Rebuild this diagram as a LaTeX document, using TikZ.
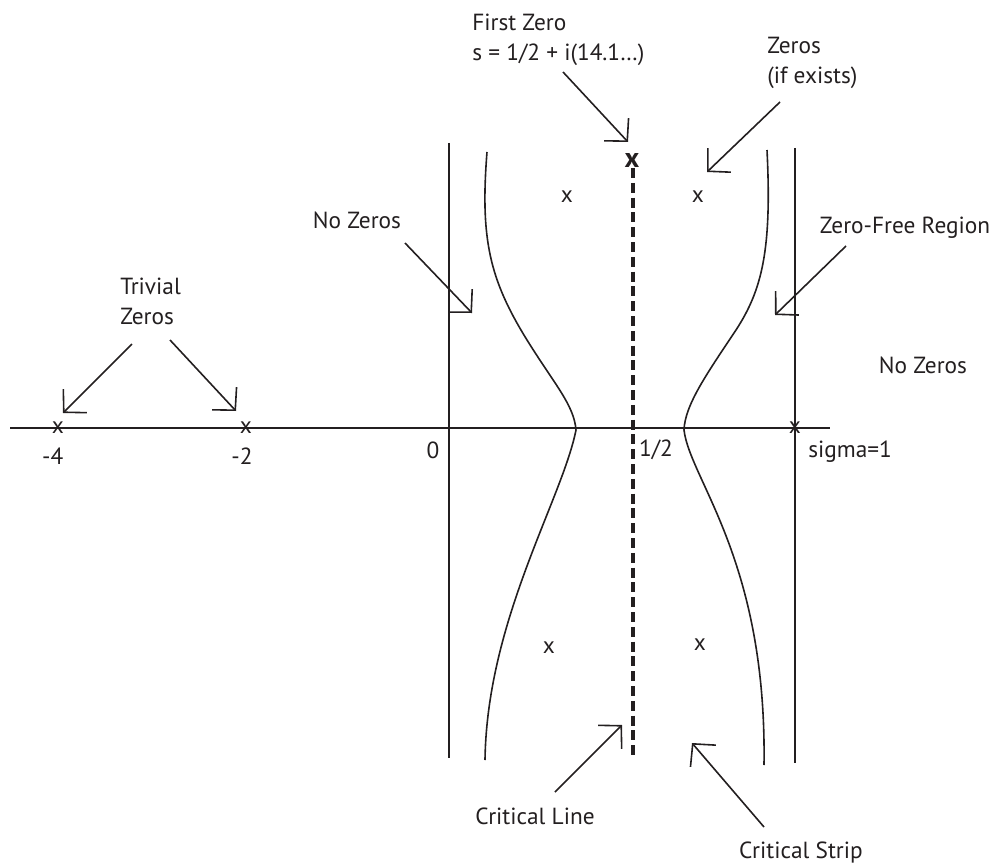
\documentclass[tikz,border=0pt]{standalone}
\usepackage{fontspec}
\setmainfont{PT Sans}
\usetikzlibrary{arrows.meta, positioning}
\definecolor{ink}{RGB}{35,31,32}

\begin{document}
\begin{tikzpicture}[x=0.75pt, y=-0.75pt, color=ink,
    txt/.style={inner sep=0pt, font=\fontsize{17.5}{22.5}\selectfont},
    zero/.style={inner sep=0pt, font=\fontsize{17.5}{22.5}\selectfont},
    firstzero/.style={inner sep=0pt, font=\fontsize{21}{21}\selectfont\bfseries},
    axisline/.style={line width=1.5pt},
    curve/.style={line width=1.2pt},
    critline/.style={line width=2.3pt, dash pattern=on 7.5pt off 3.6pt},
    arr/.style={line width=1.2pt, -{Straight Barb[length=12pt, width=25pt]}}]
  \useasboundingbox (0,0) rectangle (997,867);

  \coordinate (west) at (10,428);
  \coordinate (east) at (830,428);
  \coordinate (s0top) at (449,143);
  \coordinate (s0bot) at (449,758);
  \coordinate (s1top) at (795,148);
  \coordinate (s1bot) at (795,763);
  \coordinate (crittop) at (633,168);
  \coordinate (critbot) at (633,757);

  \draw[axisline] (west) -- (east);
  \draw[axisline] (s0top) -- (s0bot);
  \draw[axisline] (s1top) -- (s1bot);
  \draw[critline] (crittop) -- (critbot);

  \draw[curve] (487,152) .. controls (480,240) and (490,280) .. (527,340)
    .. controls (555,385) and (574,405) .. (576,430)
    .. controls (562,500) and (487,620) .. (485,760);
  \draw[curve] (767,150) .. controls (772,250) and (762,290) .. (736,330)
    .. controls (706,375) and (685,405) .. (684,430)
    .. controls (690,480) and (767,560) .. (764,765);

  \node[zero] (m4) at (58,428) {x};
  \node[zero] (m2) at (246,428) {x};
  \node[zero] (m1) at (795,428) {x};
  \node[zero] (zul) at (567,197) {x};
  \node[zero] (zur) at (698,197) {x};
  \node[zero] (zll) at (549,648) {x};
  \node[zero] (zlr) at (700,645) {x};
  \node[firstzero] (z1) at (632,160) {x};

  \node[txt, below=10pt of m4, xshift=-4pt] (lm4) {-4};
  \node[txt, below=10pt of m2, xshift=-3pt] (lm2) {-2};
  \node[txt] (l0) at (433,450) {0};
  \node[txt] (lhalf) at (656,450) {1/2};
  \node[txt, anchor=west] (lsig) at (808,452) {sigma=1};

  \node[txt, align=left, anchor=north west] (trivial) at (120,278) {Trivial\\Zeros};
  \node[txt, align=left, anchor=north west] (first) at (472,14) {First Zero\\s = 1/2 + i(14.1…)};
  \node[txt, align=left, anchor=north west] (ifex) at (767,37) {Zeros\\(if exists)};
  \node[txt] (nzleft) at (357,220) {No Zeros};
  \node[txt] (zfree) at (905,228) {Zero-Free Region};
  \node[txt] (nzright) at (923,365) {No Zeros};
  \node[txt] (cline) at (535,816) {Critical Line};
  \node[txt] (cstrip) at (801,853) {Critical Strip};

  \coordinate (a1) at (563,72);   \coordinate (b1) at (628,142);
  \coordinate (a2) at (780,102);  \coordinate (b2) at (707,172);
  \coordinate (a3) at (132,344);  \coordinate (b3) at (63,413);
  \coordinate (a4) at (170,340);  \coordinate (b4) at (236,411);
  \coordinate (a5) at (405,243);  \coordinate (b5) at (472,313);
  \coordinate (a6) at (846,246);  \coordinate (b6) at (775,315);
  \coordinate (a7) at (555,792);  \coordinate (b7) at (622,725);
  \coordinate (a8) at (764,827);  \coordinate (b8) at (692,743);

  \path[arr] (a1) edge (b1)
    (a2) edge (b2)
    (a3) edge (b3)
    (a4) edge (b4)
    (a5) edge (b5)
    (a6) edge (b6)
    (a7) edge (b7)
    (a8) edge (b8);
\end{tikzpicture}
\end{document}
